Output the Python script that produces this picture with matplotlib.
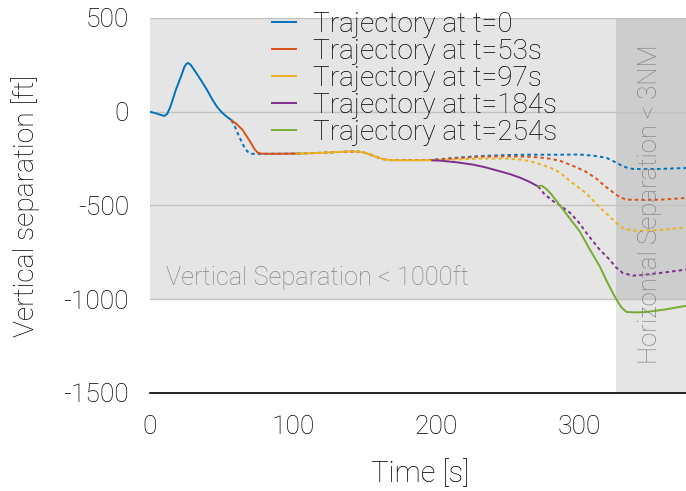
import matplotlib
matplotlib.use("Agg")
import matplotlib.pyplot as plt

plt.rcParams['font.family'] = ['Roboto', 'DejaVu Sans']
plt.rcParams['font.weight'] = 'light'
plt.rcParams['axes.labelweight'] = 'light'
plt.rcParams['axes.unicode_minus'] = False

# ---- data ----
labels = ["Trajectory at t=0", "Trajectory at t=53s", "Trajectory at t=97s",
          "Trajectory at t=184s", "Trajectory at t=254s"]
colors = ["#0072BD", "#D95319", "#EDB120", "#7E2F8E", "#77AC30"]

# flown (solid) segments
t0_x = [0, 4, 8, 10, 12, 14, 16, 18, 20, 22, 24, 25.5, 26.7, 28.5, 31, 34, 37, 40, 43.7, 47, 50.7, 54, 57]
t0_y = [0, -8, -18, -22, -12, 22, 67, 115, 155, 195, 238, 256, 260, 250, 222, 188, 152, 115, 64, 25, -7, -28, -45]
t53_x = [57, 60, 64.7, 68, 70.5, 73, 75.2, 77.5, 80, 90, 103]
t53_y = [-45, -62, -96, -135, -165, -198, -217, -223, -224, -224, -223]
t97_x = [103, 110, 120, 130, 140, 146, 150, 154, 158, 161, 164, 168, 175, 185, 197.5]
t97_y = [-223, -222, -219, -215, -212, -213, -218, -228, -240, -248, -254, -258, -259, -259, -259]
t184_x = [197.5, 203, 215, 226, 235, 245, 252, 259, 265, 271.5]
t184_y = [-259, -261, -270, -282, -297, -318, -333, -352, -372, -398]
t254_x = [271.5, 274, 277, 280, 286.8, 293.8, 300.8, 307, 314.7, 319, 323.8, 327, 330, 333.4, 340, 347.3, 360, 375]
t254_y = [-398, -394, -410, -433, -500, -570, -640, -725, -825, -895, -967, -1010, -1045, -1068, -1070, -1068, -1055, -1035]

# predicted (dotted) segments
p0_x = [57, 60, 62.3, 65, 67, 69, 71, 75, 85, 103, 120, 140, 146, 150, 154, 158, 161, 164, 168, 197, 215, 231, 250, 266,
        287, 300, 310, 315, 319.4, 324, 328.7, 333, 337.8, 345, 356.6, 375]
p0_y = [-45, -90, -131, -175, -202, -218, -224, -225, -224, -223, -219, -212, -213, -218, -228, -240, -248, -254, -258,
        -257, -245, -236, -231, -229, -229, -228, -234, -240, -246, -263, -282, -297, -305, -306, -305, -300]
p53_x = [103, 120, 140, 146, 150, 154, 158, 161, 164, 168, 197, 215, 231, 250, 266, 278, 287, 298, 305, 312, 318, 324,
         329, 334, 345, 357, 375]
p53_y = [-223, -219, -212, -213, -218, -228, -240, -248, -254, -258, -257, -248, -240, -238, -240, -248, -262, -295,
         -320, -355, -395, -430, -458, -469, -470, -469, -460]
p97_x = [197.5, 215, 231, 250, 261, 270, 280, 287, 294, 305.4, 314, 321.7, 327, 330.8, 336, 340.4, 356.6, 375]
p97_y = [-259, -254, -250, -250, -256, -272, -298, -325, -371, -436, -505, -560, -598, -620, -632, -635, -631, -617]
p184_x = [271.5, 276, 282, 287, 294, 300, 305.4, 314, 321.7, 326, 330.8, 337.8, 345, 356.6, 375]
p184_y = [-398, -440, -477, -500, -540, -590, -647, -730, -790, -830, -860, -874, -870, -860, -842]

solid = [(t0_x, t0_y), (t53_x, t53_y), (t97_x, t97_y), (t184_x, t184_y), (t254_x, t254_y)]
dotted = [(p0_x, p0_y), (p53_x, p53_y), (p97_x, p97_y), (p184_x, p184_y)]

vert_sep_limit = [-1000, 500]
horiz_sep_start = 326
x_limits = [0, 375]
y_limits = [-1500, 500]
x_ticks = [0, 100, 200, 300]
y_ticks = [-1500, -1000, -500, 0, 500]

# ---- figure ----
fig = plt.figure(figsize=(6.86, 4.91), dpi=100)
ax = fig.add_axes([150 / 686, 98 / 491, 536 / 686, 375 / 491])

ax.axhspan(vert_sep_limit[0], vert_sep_limit[1], color='k', alpha=0.10, lw=0, zorder=0.1)
ax.axvspan(horiz_sep_start, x_limits[1], color='k', alpha=0.10, lw=0, zorder=0.1)

for (x, y), c in zip(dotted, colors):
    ax.plot(x, y, color=c, lw=1.4, linestyle=(0, (1.8, 1.6)), zorder=2)
handles = []
for (x, y), c, lab in zip(solid, colors, labels):
    h, = ax.plot(x, y, color=c, lw=1.4, label=lab, zorder=3)
    handles.append(h)

ax.set_xlim(x_limits)
ax.set_ylim(y_limits)
ax.set_xticks(x_ticks)
ax.set_yticks(y_ticks)
ax.set_axisbelow(True)
ax.yaxis.grid(True, color='#c2c2c2', lw=1.0)
ax.xaxis.grid(False)
for s in ['top', 'right', 'left']:
    ax.spines[s].set_visible(False)
ax.spines['bottom'].set_color('black')
ax.spines['bottom'].set_linewidth(1.2)
ax.spines['bottom'].set_zorder(4)
ax.tick_params(axis='both', length=0, labelsize=19, colors='black')
ax.tick_params(axis='x', pad=16)
ax.tick_params(axis='y', pad=15)
ax.set_facecolor('white')

ax.set_xlabel("Time [s]", fontsize=21, fontweight='light')
ax.set_ylabel("Vertical separation [ft]", fontsize=20.3, fontweight='light')
ax.xaxis.set_label_coords(0.504, -0.178)
ax.yaxis.set_label_coords(-0.205, 0.5)

ax.text(11, -883, "Vertical Separation < 1000ft", fontsize=18.3, color='#858585',
        va='center', ha='left', zorder=5)
ax.text(350, -495, "Horizontal Separation < 3NM", fontsize=18.5, color='#858585',
        rotation=90, va='center', ha='center', zorder=5)

leg = fig.legend(handles=handles, loc='upper left', bbox_to_anchor=(272 / 686, 1 - 11 / 491),
                 frameon=False, fontsize=20.2, handlelength=0.85, handletextpad=0.6,
                 labelspacing=0.0, borderpad=0, borderaxespad=0)

fig.savefig("out.png", dpi=100)
